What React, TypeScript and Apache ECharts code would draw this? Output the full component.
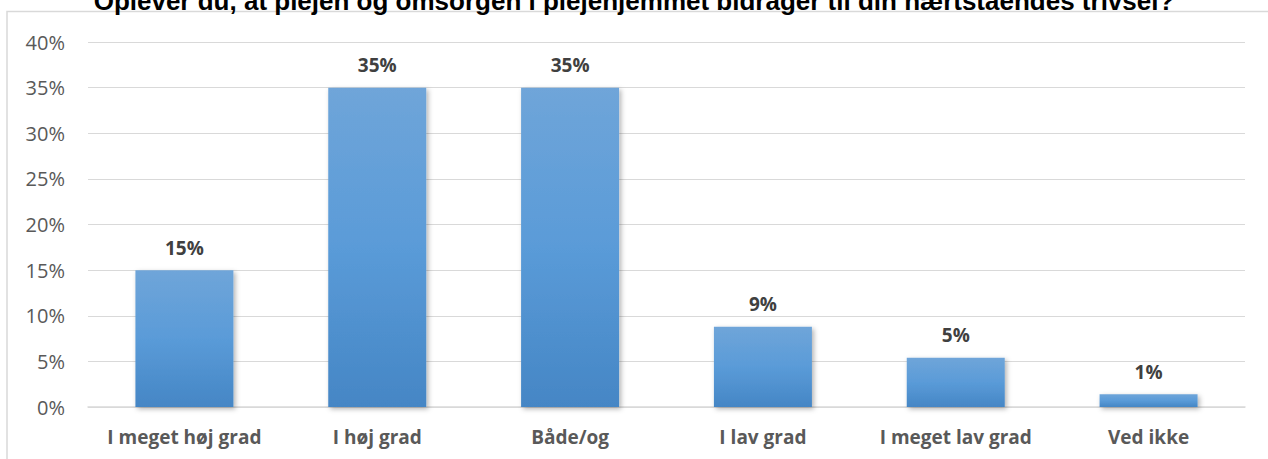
import React, { useEffect, useRef } from "react";
import * as echarts from "echarts";

const TITLE = "Oplever du, at plejen og omsorgen i plejehjemmet bidrager til din nærtståendes trivsel?";
const categories = ["I meget høj grad", "I høj grad", "Både/og", "I lav grad", "I meget lav grad", "Ved ikke"];
const values = [15.0, 35.0, 35.0, 8.8, 5.4, 1.4];
const yTicks = { min: 0, max: 40, interval: 5 };

export default function App() {
  const ref = useRef<HTMLDivElement>(null);
  useEffect(() => {
    document.body.style.margin = "0";
    const chart = echarts.init(ref.current!, null, { renderer: "svg" });
    const font = "'Open Sans', 'Noto Sans', sans-serif";
    chart.setOption({
      animation: false,
      backgroundColor: "#ffffff",
      graphic: [
        {
          type: "rect",
          shape: { x: 7, y: 11.5, width: 1400, height: 600 },
          style: { fill: "none", stroke: "#d9d9d9", lineWidth: 1.5 },
          silent: true,
          z: -1,
        },
        {
          type: "text",
          x: 634,
          y: 14,
          style: {
            text: TITLE,
            fontFamily: "'Liberation Sans', Arial, sans-serif",
            fontWeight: "bold",
            fontSize: 26,
            fill: "#000000",
            align: "center",
            verticalAlign: "bottom",
          },
        },
      ],
      grid: { left: 88, right: 23, top: 42, bottom: 52, containLabel: false },
      xAxis: {
        type: "category",
        data: categories,
        axisLine: { show: true, lineStyle: { color: "#d9d9d9", width: 1.5 } },
        axisTick: { show: false },
        axisLabel: {
          margin: 20,
          fontFamily: font,
          fontWeight: "bold",
          fontSize: 19,
          color: "#595959",
          interval: 0,
        },
      },
      yAxis: {
        type: "value",
        min: yTicks.min,
        max: yTicks.max,
        interval: yTicks.interval,
        axisLine: { show: false },
        axisTick: { show: false },
        splitLine: { lineStyle: { color: "#d9d9d9", width: 1.2 } },
        axisLabel: {
          formatter: "{value}%",
          margin: 23,
          fontFamily: font,
          fontSize: 20,
          color: "#595959",
        },
      },
      series: [
        {
          type: "bar",
          data: values,
          barWidth: 98,
          itemStyle: {
            color: new echarts.graphic.LinearGradient(0, 0, 0, 1, [
              { offset: 0, color: "#6fa5d9" },
              { offset: 0.5, color: "#5a9bd8" },
              { offset: 1, color: "#4586c5" },
            ]),
            shadowColor: "rgba(0,0,0,0.3)",
            shadowBlur: 5,
            shadowOffsetX: 2,
            shadowOffsetY: 2,
          },
          label: {
            show: true,
            position: "top",
            distance: 13,
            formatter: (p: any) => Math.round(p.value) + "%",
            fontFamily: font,
            fontWeight: "bold",
            fontSize: 19,
            color: "#404040",
          },
        },
      ],
    });
    return () => chart.dispose();
  }, []);
  return <div ref={ref} style={{ width: 1268, height: 459 }} />;
}
